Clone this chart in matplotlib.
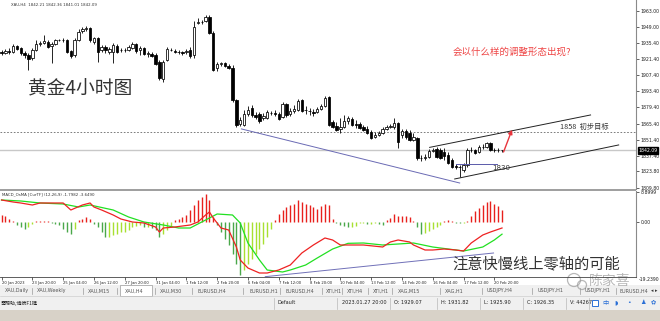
import matplotlib
matplotlib.use("Agg")
import matplotlib.pyplot as plt
import matplotlib.transforms as mtransforms
from matplotlib.patches import Rectangle, Circle

plt.rcParams['font.family'] = ['DejaVu Sans', 'Noto Sans CJK SC']
CJK = ['Noto Sans CJK SC', 'DejaVu Sans']

W, H = 660, 321

# ---- candles, XAU H4 ----
opens = [
    1927.4, 1926.5, 1928.3, 1927.4, 1932.6, 1930.9, 1926.5, 1924.8, 1922.2, 1929.1,
    1934.4, 1935.2, 1936.1, 1932.6, 1934.4, 1937.8, 1937.8, 1937.8, 1928.3, 1924.8,
    1937.8, 1945.6, 1947.4, 1948.2, 1936.1, 1939.6, 1929.1, 1931.8, 1927.4, 1927.4,
    1932.6, 1929.1, 1929.3, 1929.1, 1930.9, 1934.4, 1929.1, 1930.9, 1925.7, 1925.7,
    1924.8, 1918.7, 1904.0, 1920.5, 1929.1, 1928.3, 1927.4, 1927.4, 1927.4, 1929.1,
    1924.8, 1952.6, 1953.4, 1954.3, 1957.8, 1943.9, 1913.5, 1917.0, 1917.9, 1915.3,
    1913.5, 1885.8, 1865.0, 1864.1, 1873.7, 1878.9, 1872.8, 1873.7, 1870.2, 1870.2,
    1874.5, 1874.5, 1873.7, 1871.1, 1882.3, 1873.7, 1876.3, 1877.1, 1885.8, 1877.1,
    1876.3, 1875.4, 1875.4, 1878.0, 1880.6, 1888.4, 1866.7, 1863.3, 1860.7, 1862.4,
    1867.6, 1869.3, 1865.0, 1865.0, 1862.4, 1860.7, 1858.1, 1853.7, 1855.5, 1857.2,
    1860.7, 1862.4, 1862.4, 1865.9, 1855.5, 1858.9, 1857.2, 1851.1, 1852.9, 1835.5,
    1835.5, 1836.4, 1841.6, 1843.3, 1842.4, 1840.7, 1838.1, 1833.8, 1828.6, 1827.7,
    1825.1, 1829.4, 1842.4, 1842.4, 1840.7, 1845.1, 1845.1, 1848.5, 1842.4, 1842.6,
    1842.21,
]
highs = [
    1929.1, 1930.0, 1930.9, 1934.4, 1933.5, 1931.8, 1928.3, 1926.5, 1930.9, 1937.8,
    1937.0, 1942.2, 1937.8, 1936.1, 1938.7, 1938.7, 1939.6, 1938.7, 1929.1, 1939.6,
    1947.4, 1949.1, 1950.0, 1949.1, 1940.4, 1940.4, 1933.5, 1933.5, 1931.8, 1935.2,
    1934.4, 1930.9, 1930.9, 1933.5, 1936.1, 1935.2, 1932.6, 1931.8, 1928.3, 1927.4,
    1926.5, 1920.5, 1920.5, 1931.8, 1930.9, 1930.0, 1929.1, 1928.3, 1930.0, 1931.8,
    1954.3, 1956.9, 1955.2, 1959.5, 1959.5, 1945.6, 1918.7, 1918.7, 1918.7, 1917.0,
    1916.1, 1886.7, 1871.1, 1877.1, 1880.6, 1881.5, 1875.4, 1875.4, 1874.5, 1877.1,
    1876.3, 1877.1, 1875.4, 1884.1, 1883.2, 1878.9, 1881.5, 1886.7, 1886.7, 1880.6,
    1878.9, 1878.0, 1879.7, 1882.3, 1889.3, 1889.3, 1868.5, 1866.7, 1870.2, 1872.8,
    1871.9, 1871.1, 1868.5, 1866.7, 1864.1, 1863.3, 1859.8, 1858.1, 1858.9, 1862.4,
    1864.1, 1865.0, 1870.2, 1866.7, 1860.7, 1860.7, 1859.8, 1857.2, 1853.7, 1838.1,
    1839.0, 1843.3, 1844.2, 1845.1, 1844.2, 1844.2, 1840.7, 1835.5, 1830.3, 1829.4,
    1831.2, 1844.2, 1845.1, 1843.3, 1846.8, 1847.7, 1849.4, 1849.4, 1844.2, 1844.2,
    1842.36,
]
lows = [
    1924.8, 1925.7, 1925.7, 1926.5, 1929.1, 1924.8, 1922.2, 1911.8, 1920.5, 1928.3,
    1932.6, 1934.4, 1930.9, 1917.9, 1933.5, 1937.0, 1936.1, 1926.5, 1922.2, 1923.1,
    1937.0, 1943.9, 1945.6, 1936.1, 1934.4, 1918.7, 1927.4, 1926.5, 1925.7, 1917.9,
    1926.5, 1927.4, 1927.4, 1928.3, 1930.0, 1926.5, 1924.8, 1924.8, 1923.1, 1923.1,
    1916.1, 1903.1, 1901.4, 1919.6, 1928.3, 1926.5, 1925.7, 1924.8, 1925.7, 1922.2,
    1922.2, 1951.7, 1951.7, 1953.4, 1943.0, 1910.9, 1910.9, 1915.3, 1914.4, 1912.7,
    1884.1, 1862.4, 1863.3, 1863.3, 1871.9, 1871.1, 1869.3, 1865.9, 1868.5, 1869.3,
    1872.8, 1871.9, 1868.5, 1870.2, 1871.1, 1871.9, 1874.5, 1876.3, 1875.4, 1873.7,
    1872.8, 1871.9, 1874.5, 1877.1, 1879.7, 1863.3, 1861.5, 1858.9, 1857.2, 1861.5,
    1865.0, 1863.3, 1861.5, 1860.7, 1858.9, 1856.3, 1852.0, 1852.9, 1854.6, 1856.3,
    1859.8, 1861.5, 1860.7, 1844.2, 1852.9, 1852.0, 1850.3, 1850.3, 1833.8, 1832.9,
    1833.8, 1835.5, 1840.7, 1835.5, 1834.6, 1833.8, 1830.3, 1826.8, 1826.0, 1819.0,
    1823.4, 1827.7, 1840.7, 1839.0, 1839.8, 1843.3, 1844.2, 1841.6, 1840.7, 1840.7,
    1841.01,
]
closes = [
    1926.5, 1928.3, 1927.4, 1932.6, 1930.0, 1926.5, 1924.8, 1921.3, 1929.1, 1934.4,
    1935.2, 1937.0, 1931.8, 1934.4, 1937.8, 1938.0, 1937.5, 1927.4, 1923.9, 1937.8,
    1944.8, 1947.4, 1948.2, 1937.8, 1939.6, 1927.4, 1931.8, 1929.1, 1930.0, 1933.5,
    1927.4, 1929.3, 1929.0, 1931.8, 1934.4, 1928.3, 1930.9, 1925.7, 1926.5, 1923.9,
    1917.0, 1904.9, 1918.7, 1930.0, 1929.3, 1927.4, 1927.2, 1926.5, 1928.3, 1923.9,
    1949.1, 1953.4, 1953.2, 1957.8, 1943.9, 1911.8, 1917.0, 1917.9, 1915.3, 1913.5,
    1885.8, 1864.1, 1868.5, 1873.7, 1877.1, 1872.8, 1871.1, 1867.6, 1871.9, 1875.4,
    1874.3, 1873.7, 1869.3, 1882.3, 1872.8, 1876.3, 1878.0, 1884.9, 1876.3, 1876.9,
    1876.1, 1874.5, 1878.0, 1880.6, 1887.5, 1864.1, 1862.4, 1859.8, 1862.4, 1867.6,
    1870.2, 1864.1, 1864.1, 1861.5, 1859.8, 1857.2, 1852.9, 1855.5, 1857.2, 1860.7,
    1862.4, 1863.3, 1865.9, 1849.4, 1858.9, 1853.7, 1851.1, 1853.7, 1835.5, 1835.7,
    1836.4, 1841.6, 1842.4, 1836.4, 1835.5, 1837.2, 1831.2, 1827.7, 1827.7, 1827.9,
    1829.4, 1842.4, 1842.6, 1839.8, 1845.1, 1845.3, 1848.5, 1842.4, 1842.6, 1842.3,
    1842.09,
]

# ---- MACD_OsMA (12,26,9) ----
osma = [
    2.0, 1.7, 1.0, 0.3, -1.0, -1.5, -2.0, -1.5, -0.5, 0.2,
    0.3, 0.3, 0.2, -0.3, -0.5, -1.0, -2.0, -3.0, -3.5, -2.0,
    0.5, 1.0, 1.5, 1.0, -0.5, -1.5, -3.0, -4.5, -4.5, -4.0,
    -3.5, -3.0, -3.0, -2.3, -1.5, -1.3, -1.0, -1.5, -1.5, -1.7,
    -2.3, -4.5, -3.5, -2.3, -1.3, 0.5, 1.0, 1.5, 2.0, 3.5,
    5.0, 6.5, 7.5, 8.3, 6.5, 1.5, -1.0, -3.0, -5.0, -7.0,
    -9.5, -12.5, -16.0, -14.5, -12.5, -11.0, -9.5, -8.0, -6.5, -4.5,
    -2.0, 0.7, 2.3, 3.5, 4.5, 5.0, 5.5, 6.5, 6.0, 5.5,
    5.0, 4.5, 4.0, 4.7, 5.5, 5.0, 1.0, -0.3, -0.8, -1.3,
    -1.5, -1.5, -1.3, -0.3, -0.3, -0.5, -0.5, -0.3, -0.5, -0.8,
    0.5, 1.2, 2.5, 1.8, 1.7, 1.7, 1.5, 0.3, -1.5, -3.5,
    -3.3, -2.7, -2.2, -1.5, -0.8, 0.4, 0.7, 0.3, -0.2, -0.3,
    -0.3, 0.2, 1.7, 3.2, 4.2, 5.2, 5.9, 6.2, 5.5, 4.7,
    3.7,
]
macd_bar = [0, 3, 5, 8, 10, 13, 16, 18, 21, 23, 24, 26, 29, 31, 34, 37, 40, 41, 42, 45,
            49, 51, 53, 54, 55, 57, 59, 61, 62, 64, 67, 69, 72, 75, 78, 81, 84, 86, 88, 91,
            94, 99, 101, 103, 106, 107, 110, 112, 115, 118, 120, 122, 125, 127, 130]
macd_line = [6.6, 6.0, 5.7, 5.1, 5.7, 5.7, 5.7, 3.6, 5.1, 5.7, 4.5, 3.6, 2.1, 0.9, 0.0,
             -0.3, -1.5, -3.0, -1.8, -1.5, -0.9, 0.0, 2.1, 3.0, 1.2, -1.8, -2.4, -7.5,
             -11.4, -13.8, -15.3, -15.3, -14.4, -12.9, -9.3, -6.9, -4.8, -5.4, -6.9, -6.9,
             -6.9, -7.5, -6.0, -5.4, -6.0, -6.9, -8.4, -8.4, -8.1, -8.4, -8.7, -6.3, -3.9,
             -3.0, -1.7982]
signal_bar = [0, 5, 10, 16, 20, 23, 29, 33, 37, 42, 46, 49, 53, 56, 60, 62, 64, 67, 69,
              73, 75, 79, 82, 86, 90, 94, 99, 103, 107, 112, 116, 120, 125, 128, 130]
signal_line = [6.6, 6.3, 5.7, 5.4, 4.5, 5.1, 3.6, 1.5, 0.0, -0.9, -1.8, -1.8, 0.6, 2.4,
               2.1, -0.3, -6.3, -11.4, -14.4, -15.0, -14.4, -12.9, -10.8, -8.1, -6.4,
               -6.3, -6.9, -6.6, -6.3, -7.5, -8.1, -8.7, -7.5, -5.4, -3.649]

time_labels = ["20 Jan 2023", "23 Jan 20:00", "25 Jan 04:00", "26 Jan 12:00", "27 Jan 20:00",
               "31 Jan 04:00", "1 Feb 12:00", "2 Feb 20:00", "6 Feb 04:00", "7 Feb 12:00",
               "8 Feb 20:00", "10 Feb 04:00", "13 Feb 12:00", "14 Feb 20:00", "16 Feb 04:00",
               "17 Feb 12:00", "20 Feb 20:00"]
price_ticks = [1963.00, 1949.00, 1935.40, 1921.40, 1907.40, 1893.40, 1879.40,
               1865.40, 1851.40, 1837.40, 1823.80, 1809.80]
last_price = 1842.09
target_price = 1858
support_price = 1830.5

# trend lines drawn on the chart: (bar, value) end points
down_line = [(62.3, 1860.7), (119.0, 1813.8)]
chan_top = [(111.2, 1844.7), (153.0, 1872.8)]
chan_bot = [(117.7, 1817.3), (160.3, 1846.8)]
flat_line = [(118.0, support_price), (128.6, support_price)]
arrow_pts = [(130.4, 1840.7), (132.6, 1860.0)]
macd_trend = [(68.5, -16.4), (127.8, -9.3)]


def px_rect(x0, y0, x1, y1):
    return [x0 / W, 1 - y1 / H, (x1 - x0) / W, (y1 - y0) / H]


fig = plt.figure(figsize=(W / 100, H / 100), dpi=100)
fig.patch.set_facecolor('white')

bg = fig.add_axes([0, 0, 1, 1], zorder=0)
bg.set_xlim(0, W)
bg.set_ylim(H, 0)
bg.axis('off')

XMIN, XMAX = -0.4, 164.8
n = len(closes)
bars = list(range(n))

# ---- main price panel ----
ax = fig.add_axes(px_rect(0, 0, 636, 189), zorder=2)
ax.set_xlim(XMIN, XMAX)
ax.set_ylim(1808.6, 1972.5)
ax.patch.set_alpha(0)

ax.axhline(last_price, color='#c8c8c8', lw=1.0, zorder=0.5)
ax.axhline(target_price, color='#666666', lw=0.6, ls=(0, (2, 2)), zorder=0.6)

ax.vlines(bars, lows, highs, color='black', lw=0.6, zorder=1)
bodies = [max(abs(c - o), 0.25) for o, c in zip(opens, closes)]
bottoms = [min(o, c) for o, c in zip(opens, closes)]
faces = ['white' if c >= o else 'black' for o, c in zip(opens, closes)]
ax.bar(bars, bodies, 0.62, bottom=bottoms, color=faces, edgecolor='black', lw=0.55, zorder=2)

for pts, col in [(down_line, '#6a6ab4'), (chan_top, '#222222'), (chan_bot, '#222222'),
                 (flat_line, '#5a5aaa')]:
    ax.plot([p[0] for p in pts], [p[1] for p in pts], color=col, lw=0.7, zorder=3)
ax.annotate('', xy=arrow_pts[1], xytext=arrow_pts[0],
            arrowprops=dict(arrowstyle='-|>', color='#e8343c', lw=1.0,
                            mutation_scale=6, shrinkA=0, shrinkB=0), zorder=4)

ax.text(145.0, target_price + 0.6, '1858  初步目标', family=CJK, fontsize=5.2,
        color='#333333', va='bottom', ha='left')
ax.text(127.5, support_price - 0.8, '1830', fontsize=5.0, color='#333333',
        va='top', ha='left')
ax.text(0.044, 0.53, '黄金4小时图', transform=ax.transAxes, family=CJK,
        fontsize=13.5, color='#333333', va='center', ha='left')
ax.text(0.712, 0.725, '会以什么样的调整形态出现?', transform=ax.transAxes, family=CJK,
        fontsize=6.8, color='#ee4444', va='center', ha='left')
ax.text(0.018, 0.985, 'XAU,H4  1842.21 1842.36 1841.01 1842.09', transform=ax.transAxes,
        fontsize=2.8, color='#333333', va='top', ha='left')

ax.yaxis.tick_right()
ax.set_yticks(price_ticks)
ax.set_yticklabels(['%.2f' % p for p in price_ticks])
ax.tick_params(axis='y', labelsize=3.3, length=2, width=0.5, pad=1.2,
               colors='#222222')
ax.set_xticks([])
for s in ['top', 'left', 'bottom']:
    ax.spines[s].set_visible(False)
ax.spines['right'].set_color('#8a8a8a')
ax.spines['right'].set_linewidth(0.8)

blend = mtransforms.blended_transform_factory(ax.transAxes, ax.transData)
ax.text(1.004, last_price, '%.2f' % last_price, transform=blend, fontsize=3.3,
        color='white', va='center', ha='left',
        bbox=dict(boxstyle='square,pad=0.15', fc='black', ec='black'))

# ---- MACD panel ----
m = fig.add_axes(px_rect(0, 191, 636, 277), zorder=2)
m.set_xlim(XMIN, XMAX)
m.set_ylim(-16.5, 9.3)
m.patch.set_alpha(0)

cols = []
prev = 0.0
for v in osma:
    if v >= 0:
        cols.append('#e8201c')
    elif v < prev:
        cols.append('#4aa84a')
    else:
        cols.append('#a8e030')
    prev = v
m.vlines(bars, 0, osma, colors=cols, lw=1.0, zorder=1)
m.plot(macd_bar, macd_line, color='#ee2222', lw=0.9, zorder=3)
m.plot(signal_bar, signal_line, color='#22e022', lw=0.9, zorder=2)
m.plot([p[0] for p in macd_trend], [p[1] for p in macd_trend], color='#7070b8', lw=0.7, zorder=3)

m.text(0.003, 0.965, 'MACD_OsMA [CurTF] (12,26,9) -1.7982 -3.6490', transform=m.transAxes,
       fontsize=2.8, color='#333333', va='center', ha='left')
m.text(0.712, 0.15, '注意快慢线上零轴的可能', transform=m.transAxes, family=CJK,
       fontsize=11, color='#333333', va='center', ha='left')

m.yaxis.tick_right()
m.set_yticks([8.8999, 0.0])
m.set_yticklabels(['8.8999', '0.00'])
m.tick_params(axis='y', labelsize=3.3, length=2, width=0.5, pad=1.2, colors='#222222')
m.text(1.004, -0.005, '-19.2390', transform=m.transAxes, fontsize=3.3, color='#222222',
       va='top', ha='left')
m.set_xticks([8 * k for k in range(len(time_labels))])
m.set_xticklabels(time_labels, ha='left')
m.tick_params(axis='x', labelsize=2.7, length=2, width=0.5, pad=0.6, colors='#222222')
m.spines['top'].set_visible(False)
m.spines['left'].set_visible(False)
m.spines['right'].set_color('#8a8a8a')
m.spines['right'].set_linewidth(0.8)
m.spines['bottom'].set_color('#444444')
m.spines['bottom'].set_linewidth(0.6)

# ---- terminal chrome ----
bg.add_patch(Rectangle((0, 188.5), 636, 2.2, fc='#a0a0a0', ec='none'))
bg.add_patch(Rectangle((0, 285), W, 11, fc='#f0f0f0', ec='none'))
bg.add_patch(Rectangle((0, 296.5), W, 13.5, fc='#f0f0f0', ec='none'))
bg.plot([0, W], [296.3, 296.3], color='#c8c8c8', lw=0.5)
bg.add_patch(Rectangle((0, 310), W, 11, fc='#d8d2c8', ec='none'))
bg.add_patch(Rectangle((120, 284.5), 32, 11, fc='white', ec='#9a9a9a', lw=0.5))

tabs = [(5, 'XAU,Daily'), (37, 'XAU,Weekly'), (88, 'XAU,M15'), (125, 'XAU,H4'),
        (160, 'XAU,M30'), (197, 'EURUSD,H4'), (250, 'EURUSD,H1'), (285, 'EURUSD,H4'),
        (326, 'XTI,H1'), (347, 'XTI,H4'), (373, 'XTI,H1'), (398, 'XAG,M15'),
        (445, 'XAG,H1'), (487, 'USDJPY,H4'), (538, 'USDJPY,H1'), (585, 'USDJPY,H1'),
        (620, 'EURUSD,H4')]
for x, t in tabs:
    bg.text(x, 290.8, t, fontsize=3.5, color='#555555', va='center', ha='left')
for x in [32, 83, 117, 155, 192, 243, 280, 322, 342, 368, 392, 440, 482, 532, 580, 616]:
    bg.plot([x, x], [287.5, 293.5], color='#9a9a9a', lw=0.5)
bg.text(651, 290.8, '◂ ▸', fontsize=3.5, color='#333333', va='center', ha='left')

bg.text(1, 303, '需帮助,请按F1键', family=CJK, fontsize=3.6, color='#222222',
        va='center', ha='left')
status = [(277, 'Default'), (342, '2023.01.27 20:00'), (394, 'O: 1929.07'),
          (441, 'H: 1931.82'), (484, 'L: 1925.90'), (527, 'C: 1926.35'), (570, 'V: 44267')]
for x, t in status:
    bg.text(x, 303, t, fontsize=3.6, color='#222222', va='center', ha='left')
for x in [274, 337, 390, 437, 480, 523, 566, 589]:
    bg.plot([x, x], [298, 308.5], color='#b8b8b8', lw=0.5)
bg.add_patch(Rectangle((592, 299.5), 6, 6, fc='white', ec='#2a6fd6', lw=0.7))
bg.text(602, 302.8, '中', family=CJK, fontsize=4.5, color='#2a6fd6', va='center')
for x, t in [(614, '◗'), (627, '•'), (640, '♟'), (651, '✿')]:
    bg.text(x, 302.8, t, fontsize=4.5, color='#2a6fd6', va='center')

# watermark
bg.add_patch(Circle((574, 280), 6.5, fc='none', ec='#9a9a9a', lw=0.9, alpha=0.7))
bg.add_patch(Circle((582, 285), 4.5, fc='none', ec='#9a9a9a', lw=0.9, alpha=0.7))
bg.text(589, 280.6, '陈家喜', family=CJK, fontsize=10, color='#8a8a8a', alpha=0.6,
        va='center', ha='left')

fig.savefig('out.png', dpi=100, facecolor='white')
